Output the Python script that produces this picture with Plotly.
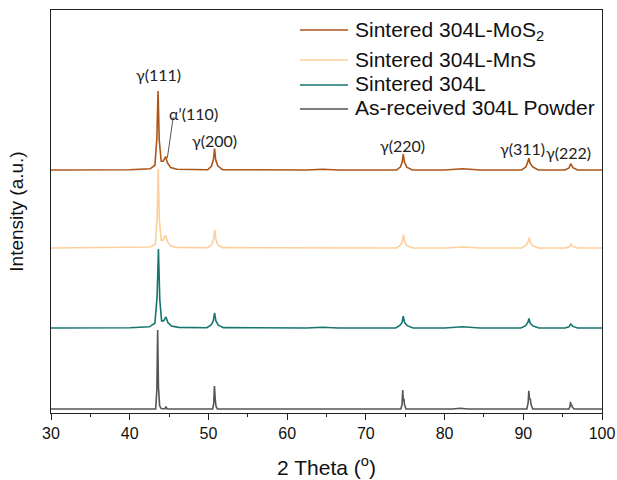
import plotly.graph_objects as go

# ---------------- data ----------------
series_names = ["Sintered 304L-MoS<sub>2</sub>", "Sintered 304L-MnS", "Sintered 304L", "As-received 304L Powder"]

# relative intensity (% of the gamma(111) peak) vs 2-theta
x_mos2 = [30, 40, 42.6, 43.2, 43.45, 43.6, 43.75, 44.0, 44.25, 44.55, 44.8, 45.2, 46.0,
          49.9, 50.4, 50.65, 50.78, 50.92, 51.2, 51.8, 62.5, 64.5, 66.5,
          73.9, 74.4, 74.62, 74.75, 74.9, 75.2, 75.9, 80, 82.3, 84.5,
          89.8, 90.35, 90.6, 90.72, 90.85, 91.2, 91.9, 95.3, 95.8, 96.02, 96.3, 96.9, 100]
y_mos2 = [0, 0.3, 1.5, 6, 40, 100, 38, 11, 11, 17, 9, 3, 1,
          0.3, 5, 14, 27, 13, 5, 0.5, 0, 1, 0,
          0, 4, 10, 20, 10, 3.5, 0, 0, 1.5, 0,
          0, 4, 10, 15, 9, 4, 0, 0, 2.5, 8, 3, 0, 0]

x_mns = [30, 40, 42.6, 43.25, 43.48, 43.62, 43.76, 44.0, 44.25, 44.55, 44.8, 45.2, 46.0,
         49.9, 50.4, 50.66, 50.8, 50.94, 51.2, 51.8, 62.5, 64.5, 66.5,
         73.9, 74.4, 74.64, 74.77, 74.92, 75.2, 75.9, 80, 82.3, 84.5,
         89.8, 90.35, 90.62, 90.75, 90.88, 91.2, 91.9, 95.4, 95.85, 96.05, 96.3, 96.9, 100]
y_mns = [0, 0.3, 1.2, 5, 38, 100, 36, 10, 10, 16, 8, 2.5, 0.8,
         0.3, 4, 11, 23, 11, 4, 0.5, 0, 0.8, 0,
         0, 3.5, 8, 17, 8, 3, 0, 0, 1.2, 0,
         0, 3.5, 8, 13, 7, 3, 0, 0, 1.5, 5, 2, 0, 0]

x_304 = [30, 40, 42.5, 43.2, 43.48, 43.65, 43.82, 44.05, 44.3, 44.6, 44.85, 45.3, 46.2,
         49.8, 50.35, 50.62, 50.78, 50.95, 51.25, 51.9, 62.5, 64.5, 66.5,
         73.8, 74.35, 74.6, 74.75, 74.92, 75.25, 76.0, 80, 82.3, 84.5,
         89.7, 90.3, 90.58, 90.72, 90.88, 91.25, 92.0, 95.3, 95.8, 96.02, 96.3, 96.9, 100]
y_304 = [0, 0.4, 1.5, 6, 40, 100, 36, 9, 9, 14, 7, 2.5, 0.8,
         0.3, 4, 9, 19, 9, 3.5, 0.5, 0, 1, 0,
         0, 3.5, 7, 15, 7, 3, 0, 0, 1.5, 0,
         0, 3, 7, 12, 6, 2.5, 0, 0, 1.5, 5, 2, 0, 0]

x_powder = [30, 43.3, 43.45, 43.55, 43.65, 43.72, 43.8, 44.0, 44.45, 44.6, 44.75,
            50.55, 50.68, 50.76, 50.84, 50.9, 50.98, 51.15,
            74.45, 74.6, 74.68, 74.76, 74.84, 74.9, 75.1, 81, 82, 83,
            90.45, 90.62, 90.7, 90.8, 90.9, 90.98, 91.2,
            95.8, 95.93, 96.0, 96.08, 96.17, 96.25, 96.45, 100]
y_powder = [0, 0, 25, 100, 28, 14, 4, 0.5, 0, 3, 0,
            0, 8, 29, 10, 8, 3, 0,
            0, 6, 24, 10, 13, 6, 0, 0, 1, 0,
            0, 8, 23, 12, 13, 6, 0,
            0, 3, 9, 4, 5, 2, 0, 0]

peak_labels = ["γ(111)", "α’(110)", "γ(200)", "γ(220)", "γ(311)", "γ(222)"]
peak_positions = [43.6, 44.6, 50.8, 74.7, 90.7, 96.0]

xs = [x_mos2, x_mns, x_304, x_powder]
ys = [y_mos2, y_mns, y_304, y_powder]

# ---------------- styling / layout ----------------
colors = ["#AC5517", "#FDCF9C", "#16766F", "#555555"]
offsets = [243, 165, 85, 4]
scale = 0.79

W, H = 617, 480
L, R, T, B = 51, 15, 10, 67
pw, ph = W - L - R, H - T - B


def px2paper(px, py):
    return (px - L) / pw, (H - B - py) / ph


fig = go.Figure()
for name, x, y, c, off in zip(series_names, xs, ys, colors, offsets):
    fig.add_trace(go.Scatter(x=x, y=[off + scale * v for v in y], mode="lines", name=name,
                             line=dict(color=c, width=1.6), hoverinfo="skip", showlegend=False))

lab_x = [43.6, 48.1, 50.8, 74.67, 89.95, 95.8]
lab_y = [339, 300, 273, 268, 265, 261]
for t, lx, ly in zip(peak_labels, lab_x, lab_y):
    fig.add_annotation(x=lx, y=ly, text=t, showarrow=False,
                       font=dict(family="Lato", size=16, color="#222"))

# leader line for alpha'(110)
fig.add_shape(type="line", x0=45.53, y0=296, x1=44.78, y1=255,
              line=dict(color="#555", width=1))

# legend (drawn by hand to match the original's spacing)
leg_line_y = [30, 60, 85, 109]
leg_text_y = [31, 60, 84, 107]
for name, c, ly, ty in zip(series_names, colors, leg_line_y, leg_text_y):
    x0, y0 = px2paper(300, ly)
    x1, _ = px2paper(348, ly)
    fig.add_shape(type="line", xref="paper", yref="paper", x0=x0, x1=x1, y0=y0, y1=y0,
                  line=dict(color=c, width=1.6))
    tx, tyy = px2paper(353, ty)
    fig.add_annotation(xref="paper", yref="paper", x=tx, y=tyy, text=name, showarrow=False,
                       xanchor="left", yanchor="middle",
                       font=dict(family="Liberation Sans, Arial", size=21, color="#111"))

axis_font = dict(family="Liberation Sans, Arial", size=16, color="#111")
fig.update_layout(
    width=W, height=H,
    margin=dict(l=L, r=R, t=T, b=B, autoexpand=False),
    paper_bgcolor="white", plot_bgcolor="white",
    showlegend=False,
    xaxis=dict(range=[30, 100], dtick=10, showgrid=False, zeroline=False, automargin=False,
               showline=True, linecolor="#222", linewidth=1.3, mirror=True,
               ticks="outside", ticklen=6, tickcolor="#222", tickwidth=1.2,
               ticklabeloverflow="allow",
               minor=dict(ticks="outside", ticklen=3, dtick=5, tickcolor="#222"),
               tickfont=axis_font,
               title=dict(text="2 Theta (<sup>o</sup>)", standoff=18,
                          font=dict(family="Liberation Sans, Arial", size=21, color="#111"))),
    yaxis=dict(range=[0, 403], showgrid=False, zeroline=False, showticklabels=False, automargin=False,
               showline=True, linecolor="#222", linewidth=1.3, mirror=True, ticks="",
               title=dict(text="Intensity (a.u.)", standoff=21,
                          font=dict(family="Liberation Sans, Arial", size=19, color="#111"))),
)

fig.write_html("out.html", config={"displayModeBar": False},
               post_script="document.body.style.margin='0px';")
